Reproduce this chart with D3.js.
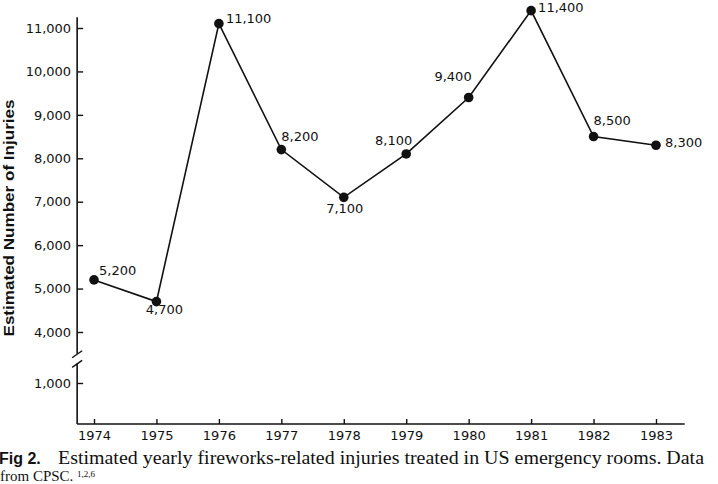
<!DOCTYPE html>
<html>
<head>
<meta charset="utf-8">
<script src="https://cdn.jsdelivr.net/npm/d3@7"></script>
<style>
  body { margin: 0; background: #fff; }
  svg { display: block; }
  .num { font-family: "DejaVu Sans", sans-serif; font-size: 13px; fill: #111; }
</style>
</head>
<body>
<svg id="chart" width="718" height="484"></svg>
<script>
// data
const years = [1974, 1975, 1976, 1977, 1978, 1979, 1980, 1981, 1982, 1983];
const injuries = [5200, 4700, 11100, 8200, 7100, 8100, 9400, 11400, 8500, 8300];
const upperTicks = [4000, 5000, 6000, 7000, 8000, 9000, 10000, 11000];
const lowerTicks = [1000];

// label placement next to each point: [anchor, dx, dy]
const labelPlace = [
  ['start', 5, -5], ['middle', 8, 12.5], ['start', 7, -1], ['start', 0, -9],
  ['middle', 1, 16], ['end', 6, -9], ['end', 3, -16], ['start', 7, 1],
  ['start', 0, -12], ['start', 9, 2]
];

const svg = d3.select('#chart')
svg.append('rect').attr('width', 718).attr('height', 484).attr('fill', '#fff')

const x = d3.scaleLinear().domain([1974, 1983]).range([94, 656])
// broken y axis: same slope above and below the break
const yUp = d3.scaleLinear().domain([4000, 11000]).range([332, 28])
const yLow = d3.scaleLinear().domain([0, 1000]).range([424, 383])

const axisX0 = x(1973.73), axisX1 = x(1983.46)
const ink = '#111'

const g = svg.append('g')

// y axis line, upper and lower part with break
g.append('line').attr('x1', axisX0).attr('x2', axisX0)
  .attr('y1', yUp(11250)).attr('y2', yUp(3500)).attr('stroke', ink).attr('stroke-width', 1.6)
g.append('line').attr('x1', axisX0).attr('x2', axisX0)
  .attr('y1', yLow(1480)).attr('y2', yLow(0)).attr('stroke', ink).attr('stroke-width', 1.6)
;[yUp(3500), yLow(1480)].forEach(yy => {
  g.append('line')
    .attr('x1', axisX0 - 5).attr('y1', yy + 4)
    .attr('x2', axisX0 + 5).attr('y2', yy - 3)
    .attr('stroke', ink).attr('stroke-width', 1.4)
})

// x axis line
g.append('line').attr('x1', axisX0).attr('x2', axisX1)
  .attr('y1', yLow(0)).attr('y2', yLow(0)).attr('stroke', ink).attr('stroke-width', 1.6)

const fmt = d3.format(',')

const yAxisUp = g.append('g').attr('transform', `translate(${axisX0},0)`)
  .call(d3.axisLeft(yUp).tickValues(upperTicks).tickFormat(fmt).tickSize(-6).tickPadding(6))
const yAxisLow = g.append('g').attr('transform', `translate(${axisX0},0)`)
  .call(d3.axisLeft(yLow).tickValues(lowerTicks).tickFormat(fmt).tickSize(-6).tickPadding(6))
const xAxis = g.append('g').attr('transform', `translate(0,${yLow(0)})`)
  .call(d3.axisBottom(x).tickValues(years).tickFormat(d3.format('d')).tickSize(-5).tickPadding(7))

;[yAxisUp, yAxisLow, xAxis].forEach(a => {
  a.select('.domain').remove()
  a.selectAll('.tick line').attr('stroke', ink).attr('stroke-width', 1.4)
  a.selectAll('.tick text').attr('class', 'num').attr('font-family', null).attr('font-size', null)
})

// y axis title
svg.append('text')
  .attr('transform', 'translate(14,218) rotate(-90)')
  .attr('text-anchor', 'middle')
  .attr('font-family', '"Liberation Sans", Arial, sans-serif')
  .attr('font-weight', 'bold')
  .attr('font-size', 15)
  .attr('textLength', 237)
  .attr('lengthAdjust', 'spacingAndGlyphs')
  .attr('fill', ink)
  .text('Estimated Number of Injuries')

// series line + dots
const pts = years.map((yr, i) => ({ year: yr, value: injuries[i], place: labelPlace[i] }))

g.append('path')
  .datum(pts)
  .attr('fill', 'none')
  .attr('stroke', ink)
  .attr('stroke-width', 1.6)
  .attr('d', d3.line().x(d => x(d.year)).y(d => yUp(d.value)))

g.selectAll('circle.pt')
  .data(pts)
  .join('circle')
    .attr('class', 'pt')
    .attr('cx', d => x(d.year))
    .attr('cy', d => yUp(d.value))
    .attr('r', 4.8)
    .attr('fill', ink)

g.selectAll('text.val')
  .data(pts)
  .join('text')
    .attr('class', 'val num')
    .attr('x', d => x(d.year) + d.place[1])
    .attr('y', d => yUp(d.value) + d.place[2])
    .attr('text-anchor', d => d.place[0])
    .text(d => fmt(d.value))

// caption
const cap = svg.append('g')
cap.append('text')
  .attr('x', -1).attr('y', 464)
  .attr('font-family', '"Liberation Sans", Arial, sans-serif')
  .attr('font-weight', 'bold').attr('font-size', 16).attr('fill', ink)
  .text('Fig 2.')
cap.append('text')
  .attr('x', 58).attr('y', 464)
  .attr('font-family', '"Liberation Serif", "Times New Roman", serif')
  .attr('font-size', 18).attr('fill', ink)
  .attr('textLength', 646).attr('lengthAdjust', 'spacingAndGlyphs')
  .text('Estimated yearly fireworks-related injuries treated in US emergency rooms. Data')
const line2 = cap.append('text')
  .attr('x', 0).attr('y', 481)
  .attr('font-family', '"Liberation Serif", "Times New Roman", serif')
  .attr('font-size', 15).attr('fill', ink)
line2.append('tspan').text('from CPSC. ')
line2.append('tspan').attr('font-size', 9).attr('dy', -4).text('1,2,6')
</script>
</body>
</html>
